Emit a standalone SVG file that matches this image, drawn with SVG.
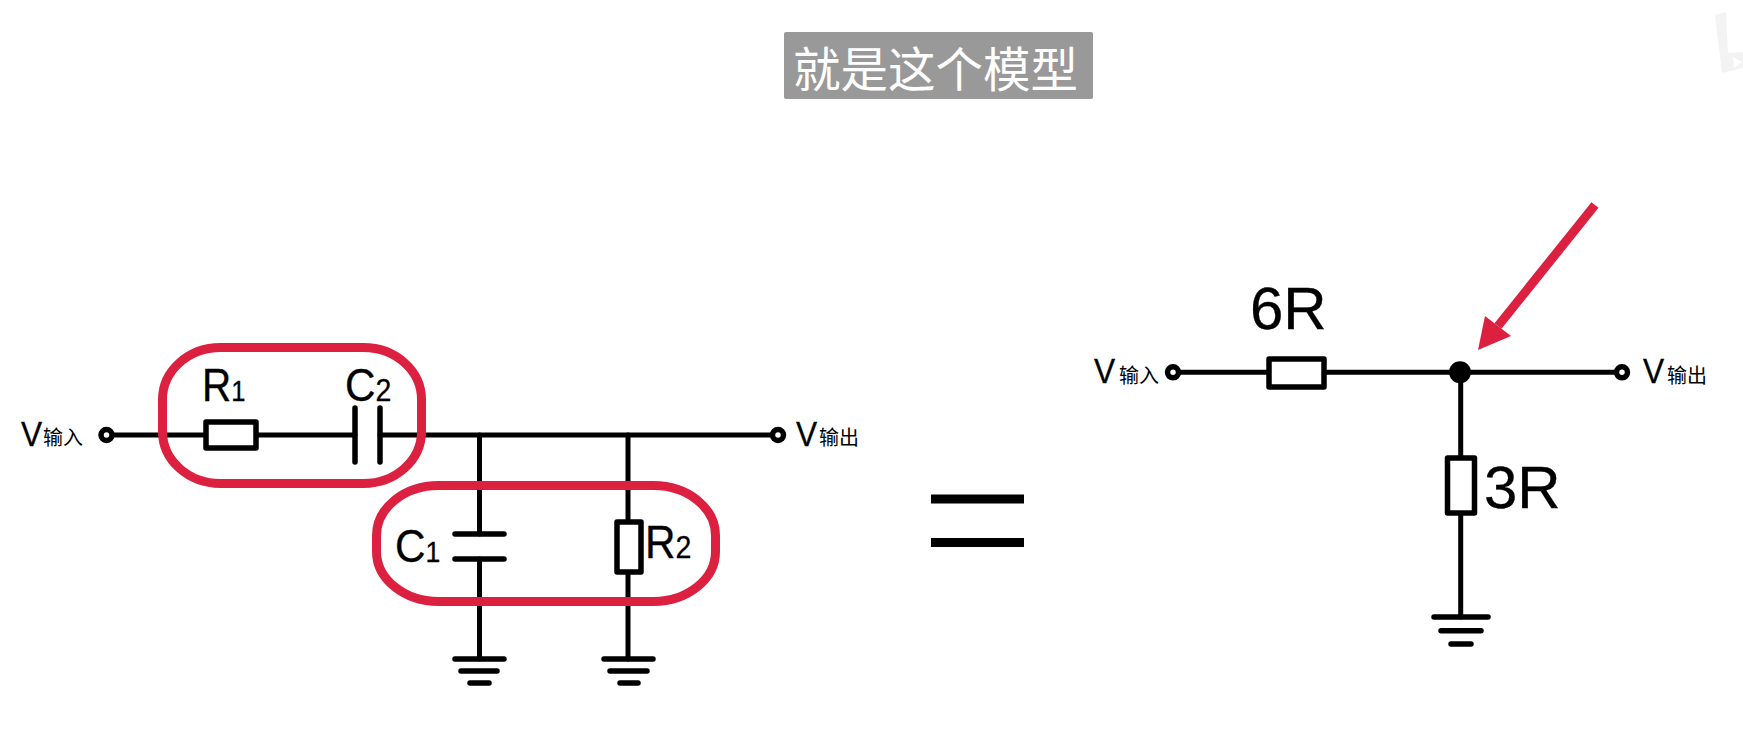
<svg xmlns="http://www.w3.org/2000/svg" width="1743" height="732" viewBox="0 0 1743 732">
<style>
.w{fill:none;stroke:#000;stroke-width:5;stroke-linecap:round}
.p{fill:none;stroke:#000;stroke-width:5.500;stroke-linecap:round}
.r{fill:#fff;stroke:#000;stroke-width:5.500;stroke-linejoin:round}
.t{fill:#fff;stroke:#000;stroke-width:5.500}
.o{fill:none;stroke:#dc2040;stroke-width:9}
.l{font-family:"Liberation Sans",Arial,sans-serif;fill:#000;stroke:#000;stroke-width:.3}
.c{font-family:"Noto Sans CJK SC",sans-serif;fill:#000;font-size:20px}
</style>
<rect width="1743" height="732" fill="#fff"/>
<g id="watermark"><path d="M1715 15L1726 12L1728 53L1743 52V68L1722 73Z" fill="#f3f3f3"/><path d="M1733 57L1742 62L1734 68Z" fill="#fff"/></g>
<g id="caption"><rect x="784" y="32" width="309" height="67" rx="2" fill="#999"/><text x="793" y="87" font-family="'Noto Sans CJK SC',sans-serif" font-size="47.500" fill="#fff">就是这个模型</text></g>
<g id="connectors">
<path class="w" d="M111 435H204M258 435H355M380 435H773"/>
<path class="w" d="M479.500 435V534M479.500 559V659M628 435V520M628 573V659"/>
<path class="w" d="M1178 372.300H1267M1326 372.300H1617M1460.700 372.300V456M1460.700 514V617"/>
</g>
<g id="vin-left"><circle class="t" cx="106.500" cy="435" r="5.500"/><text class="l" transform="translate(21 446) scale(.88 1)" font-size="36">V</text><text class="c" x="43" y="445">输入</text></g>
<g id="vout-left"><circle class="t" cx="778" cy="435" r="5.500"/><text class="l" transform="translate(796 446) scale(.88 1)" font-size="36">V</text><text class="c" x="819" y="445">输出</text></g>
<g id="R1"><rect class="r" x="206" y="422" width="50" height="26"/><text class="l" transform="translate(202 401) scale(.88 1)" font-size="46">R<tspan font-size="29">1</tspan></text></g>
<g id="C2"><path class="p" d="M355 408V462M380 408V462"/><text class="l" transform="translate(345 401) scale(.92 1)" font-size="46">C<tspan font-size="31">2</tspan></text></g>
<g id="C1"><path class="p" d="M455 534H504M455 559H504"/><text class="l" transform="translate(395 562) scale(.92 1)" font-size="46">C<tspan font-size="29">1</tspan></text></g>
<g id="R2"><rect class="r" x="617" y="522" width="24" height="50"/><text class="l" transform="translate(645 558) scale(.92 1)" font-size="46">R<tspan font-size="31">2</tspan></text></g>
<g id="gnd1"><path class="p" d="M455 659H504M461 671H497M470 683H489"/></g>
<g id="gnd2"><path class="p" d="M604 659H653M610 671H647M620 683H638"/></g>
<g id="group-red"><rect class="o" x="162.500" y="347.500" width="259" height="136" rx="58" ry="52"/><rect class="o" x="376.500" y="485.500" width="339" height="116" rx="62" ry="50"/></g>
<g id="equals"><path stroke="#000" stroke-width="9" d="M931 499H1024M931 542.500H1024"/></g>
<g id="vin-right"><circle class="t" cx="1173" cy="372.300" r="5.500"/><text class="l" transform="translate(1094 383) scale(.88 1)" font-size="36">V</text><text class="c" x="1119" y="383">输入</text></g>
<g id="R6"><rect class="r" x="1269" y="359" width="55" height="28"/><text class="l" x="1250" y="329" font-size="60">6R</text></g>
<g id="dot"><circle cx="1460" cy="372.300" r="11"/></g>
<g id="vout-right"><circle class="t" cx="1622" cy="372.300" r="5.500"/><text class="l" transform="translate(1643 383) scale(.88 1)" font-size="36">V</text><text class="c" x="1667" y="383">输出</text></g>
<g id="R3"><rect class="r" x="1447.500" y="458" width="27" height="55"/><text class="l" x="1484" y="508" font-size="60">3R</text></g>
<g id="gnd3"><path class="p" d="M1434 617H1488M1441 630.700H1481M1451 644H1471"/></g>
<g id="arrow"><path d="M1595 205L1498 326" stroke="#dc2040" stroke-width="9" fill="none"/><path d="M1478 350L1485 316L1511 336Z" fill="#dc2040"/></g>
</svg>
